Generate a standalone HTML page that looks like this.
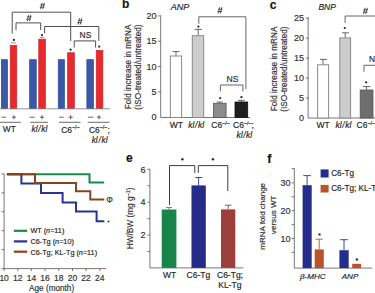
<!DOCTYPE html>
<html><head><meta charset="utf-8">
<style>
html,body{margin:0;padding:0;background:#fff;width:375px;height:293px;overflow:hidden}
svg{display:block;font-family:"Liberation Sans",sans-serif}
text{stroke:#333;stroke-width:0.18px}
</style></head><body>
<svg width="375" height="293" viewBox="0 0 375 293">
<rect width="375" height="293" fill="#fff"/>

<!-- ===== Panel a ===== -->
<g id="a">
  <g fill="#3a58a6" stroke="#2e4a94" stroke-width="0.7">
    <rect x="1.35" y="59.65" width="6.2" height="48.9"/>
    <rect x="29.65" y="59.65" width="6.6" height="48.9"/>
    <rect x="58.25" y="59.65" width="6.2" height="48.9"/>
    <rect x="86.85" y="59.65" width="6.6" height="48.9"/>
  </g>
  <g fill="#e8292e" stroke="#cf2328" stroke-width="0.7">
    <rect x="10.25" y="45.35" width="6.5" height="63.2"/>
    <rect x="38.75" y="39.15" width="6.6" height="69.4"/>
    <rect x="67.65" y="52.75" width="6.7" height="55.8"/>
    <rect x="96.25" y="50.35" width="6.6" height="58.2"/>
  </g>
  <g stroke="#d85055" stroke-width="0.8">
    <line x1="11" y1="42.9" x2="16" y2="42.9"/>
    <line x1="39.8" y1="37.4" x2="44.4" y2="37.4"/>
  </g>
  <g fill="#2a2a2a">
    <circle cx="13.9" cy="39.9" r="1.15"/>
    <circle cx="42" cy="35.1" r="1.15"/>
    <circle cx="70.6" cy="49.7" r="1.15"/>
    <circle cx="99.2" cy="46.6" r="1.15"/>
  </g>
  <g stroke="#505050" stroke-width="1" fill="none">
    <polyline points="12.2,33.7 12.2,12.2 70.7,12.2 70.7,41"/>
    <polyline points="16,30.3 16,22.9 40.7,22.9 40.7,30"/>
    <polyline points="44.6,33.3 44.6,26.5 98.8,26.5 98.8,40.8"/>
    <polyline points="74.2,47.6 74.2,40.9 95.6,40.9 95.6,47.6"/>
  </g>
  <path d="M40.50,9.20L42.10,2.90M42.70,9.20L44.30,2.90M39.80,7.20H44.40M40.40,4.90H45.00M27.10,21.20L28.70,14.90M29.30,21.20L30.90,14.90M26.40,19.20H31.00M27.00,16.90H31.60M78.00,24.60L79.60,18.30M80.20,24.60L81.80,18.30M77.30,22.60H81.90M77.90,20.30H82.50" stroke="#3a3a3a" stroke-width="0.85" fill="none"/>
  <text x="85.4" y="38.3" font-size="8.4" fill="#2a2a2a" text-anchor="middle">NS</text>
  <line x1="0" y1="108.8" x2="110" y2="108.8" stroke="#777" stroke-width="0.8"/>
  <g stroke="#3a3a3a" stroke-width="0.75">
    <line x1="1.4" y1="117.2" x2="6.2" y2="117.2"/>
    <line x1="29.6" y1="117.2" x2="34.9" y2="117.2"/>
    <line x1="59.1" y1="117.2" x2="63.8" y2="117.2"/>
    <line x1="87.9" y1="117.2" x2="93.3" y2="117.2"/>
    <path d="M11.8,117.2h4.2M13.9,115.1v4.2"/>
    <path d="M39.9,117.2h4.2M42.0,115.1v4.2"/>
    <path d="M68.6,117.2h4.2M70.7,115.1v4.2"/>
    <path d="M96.9,117.2h4.2M99.0,115.1v4.2"/>
  </g>
  <g stroke="#444" stroke-width="0.8">
    <line x1="0" y1="122.3" x2="20.8" y2="122.3"/>
    <line x1="30.3" y1="122.3" x2="48" y2="122.3"/>
    <line x1="59" y1="122.3" x2="80.6" y2="122.3"/>
    <line x1="87.8" y1="122.3" x2="109.4" y2="122.3"/>
  </g>
  <g font-size="8.4" fill="#222">
    <text x="9.3" y="132.4" text-anchor="middle">WT</text>
    <text x="39.5" y="132.4" text-anchor="middle" font-style="italic">kl<tspan dx="0.7">/</tspan><tspan dx="0.7">kl</tspan></text>
    <text x="61.2" y="132.6">C6<tspan font-size="5.5" dy="-3.5">–/–</tspan></text>
    <text x="89" y="132.6">C6<tspan font-size="5.5" dy="-3.5">–/–</tspan><tspan dy="3.5">;</tspan></text>
    <text x="99.6" y="142.5" text-anchor="middle" font-style="italic">kl<tspan dx="0.7">/</tspan><tspan dx="0.7">kl</tspan></text>
  </g>
</g>

<!-- ===== Panel b ===== -->
<g id="b">
  <text x="122.1" y="8.4" font-size="12" font-weight="bold" fill="#111">b</text>
  <text x="180" y="10.2" font-size="9" font-style="italic" fill="#222" text-anchor="middle">ANP</text>
  <g stroke="#555" stroke-width="0.8">
    <line x1="160.7" y1="15.4" x2="160.7" y2="117.5"/>
    <line x1="160.7" y1="117.5" x2="250" y2="117.5"/>
    <line x1="158" y1="15.9" x2="160.7" y2="15.9"/>
    <line x1="158" y1="41.2" x2="160.7" y2="41.2"/>
    <line x1="158" y1="66.6" x2="160.7" y2="66.6"/>
    <line x1="158" y1="91.9" x2="160.7" y2="91.9"/>
    
  </g>
  <g font-size="9" fill="#333" text-anchor="end">
    <text x="156.5" y="19.1">20</text>
    <text x="156.5" y="44.4">15</text>
    <text x="156.5" y="69.8">10</text>
    <text x="156.5" y="95.1">5</text>
    <text x="156.5" y="120.4">0</text>
  </g>
  <g font-size="8.25" fill="#333" text-anchor="middle" transform="rotate(-90)">
    <text x="-66.9" y="130.6">Fold increase in mRNA</text>
    <text x="-67.1" y="140.6">(ISO-treated/untreated)</text>
  </g>
  <g stroke="#444" stroke-width="0.8">
    <line x1="176" y1="51.6" x2="176" y2="55.8"/><line x1="172.5" y1="51.6" x2="179.5" y2="51.6"/>
    <line x1="198.2" y1="29.4" x2="198.2" y2="35.7"/><line x1="194.5" y1="29.4" x2="201.9" y2="29.4"/>
    <line x1="219.7" y1="102" x2="219.7" y2="103.3"/><line x1="216.6" y1="102" x2="222.9" y2="102"/>
    <line x1="241.3" y1="100.4" x2="241.3" y2="102"/><line x1="238" y1="100.4" x2="244.6" y2="100.4"/>
  </g>
  <rect x="170.4" y="56" width="11.2" height="61.5" fill="#fff" stroke="#8a8a8a" stroke-width="1"/>
  <rect x="192.3" y="35.7" width="11.4" height="81.8" fill="#cdcdcd" stroke="#8a8a8a" stroke-width="1"/>
  <rect x="213.4" y="103.3" width="12.7" height="14.2" fill="#8c8c8c" stroke="#555" stroke-width="0.8"/>
  <rect x="235" y="102" width="12.7" height="15.5" fill="#1e1e1e" stroke="#111" stroke-width="0.8"/>
  <g fill="#222">
    <circle cx="198.4" cy="26.6" r="1.1"/>
    <circle cx="220.2" cy="98" r="1.1"/>
    <circle cx="241.4" cy="97.2" r="1.1"/>
  </g>
  <g stroke="#555" stroke-width="0.9" fill="none">
    <polyline points="198.8,23.8 198.8,16.8 245.9,16.8 245.9,89"/>
    <polyline points="220.4,91.3 220.4,85 242.9,85 242.9,91.3"/>
  </g>
  <path d="M218.10,13.50L219.70,7.20M220.30,13.50L221.90,7.20M217.40,11.50H222.00M218.00,9.20H222.60" stroke="#3a3a3a" stroke-width="0.85" fill="none"/>
  <text x="232.5" y="82" font-size="8.6" fill="#333" text-anchor="middle">NS</text>
  <g font-size="8.5" fill="#222">
    <text x="176.3" y="128" text-anchor="middle">WT</text>
    <text x="196.1" y="128" text-anchor="middle" font-style="italic">kl<tspan dx="0.6">/</tspan><tspan dx="0.6">kl</tspan></text>
    <text x="211.3" y="128">C6<tspan font-size="5.5" dy="-3.5">–/–</tspan></text>
    <text x="233" y="128">C6<tspan font-size="5.5" dy="-3.5">–/–</tspan><tspan dy="3.5">;</tspan></text>
    <text x="236.4" y="137.5" font-style="italic">kl<tspan dx="0.6">/</tspan><tspan dx="0.6">kl</tspan></text>
  </g>
</g>

<!-- ===== Panel c ===== -->
<g id="c">
  <text x="269.8" y="9" font-size="12" font-weight="bold" fill="#111">c</text>
  <text x="318.4" y="10.3" font-size="8.5" font-style="italic" fill="#222">BNP</text>
  <g stroke="#555" stroke-width="0.8">
    <line x1="308.1" y1="17.4" x2="308.1" y2="118"/>
    <line x1="308.1" y1="118" x2="375" y2="118"/>
    <line x1="306" y1="18.2" x2="308.8" y2="18.2"/>
    <line x1="306" y1="38.2" x2="308.8" y2="38.2"/>
    <line x1="306" y1="58.1" x2="308.8" y2="58.1"/>
    <line x1="306" y1="78.1" x2="308.8" y2="78.1"/>
    <line x1="306" y1="98" x2="308.8" y2="98"/>
    
  </g>
  <g font-size="9" fill="#333" text-anchor="end">
    <text x="304" y="21.4">25</text>
    <text x="304" y="41.4">20</text>
    <text x="304" y="61.3">15</text>
    <text x="304" y="81.3">10</text>
    <text x="304" y="101.2">5</text>
    <text x="304" y="121.2">0</text>
  </g>
  <g font-size="8.25" fill="#333" text-anchor="middle" transform="rotate(-90)">
    <text x="-68.9" y="276.9">Fold increase in mRNA</text>
    <text x="-69.1" y="286.8">(ISO-treated/untreated)</text>
  </g>
  <g stroke="#444" stroke-width="0.8">
    <line x1="323" y1="59.4" x2="323" y2="65.3"/><line x1="320" y1="59.4" x2="327" y2="59.4"/>
    <line x1="345.2" y1="32.8" x2="345.2" y2="38.4"/><line x1="342" y1="32.8" x2="349" y2="32.8"/>
    <line x1="366.5" y1="86.6" x2="366.5" y2="90"/><line x1="362.7" y1="86.6" x2="370.4" y2="86.6"/>
  </g>
  <rect x="317.6" y="64.8" width="11" height="53.2" fill="#fff" stroke="#8a8a8a" stroke-width="1"/>
  <rect x="339.8" y="37.9" width="10.8" height="80.1" fill="#cdcdcd" stroke="#8a8a8a" stroke-width="1"/>
  <rect x="360.2" y="90" width="12.8" height="28" fill="#6e6e6e" stroke="#555" stroke-width="0.8"/>
  <g fill="#222">
    <circle cx="344.8" cy="28" r="1.1"/>
    <circle cx="366.1" cy="82.3" r="1.15"/>
  </g>
  <g stroke="#555" stroke-width="0.9" fill="none">
    <polyline points="345.1,22.9 345.1,16 376,16"/>
    <polyline points="364,71.7 364,65.3 376,65.3"/>
  </g>
  <path d="M363.50,14.10L365.10,7.80M365.70,14.10L367.30,7.80M362.80,12.10H367.40M363.40,9.80H368.00" stroke="#3a3a3a" stroke-width="0.85" fill="none"/>
  <text x="369" y="62.2" font-size="8.4" fill="#2a2a2a">NS</text>
  <g font-size="8.5" fill="#222">
    <text x="323" y="128.4" text-anchor="middle">WT</text>
    <text x="343.4" y="128.4" text-anchor="middle" font-style="italic">kl<tspan dx="0.6">/</tspan><tspan dx="0.6">kl</tspan></text>
    <text x="356.5" y="128.4">C6<tspan font-size="5.5" dy="-3.5">–/–</tspan></text>
  </g>
</g>

<!-- ===== Panel d ===== -->
<g id="d">
  <g stroke="#555" stroke-width="0.8">
    <line x1="4.1" y1="173.7" x2="4.1" y2="268.6"/>
    <line x1="4.1" y1="268.6" x2="106.4" y2="268.6"/>
    <line x1="1.5" y1="174" x2="4.1" y2="174"/>
    <line x1="1.5" y1="192.9" x2="4.1" y2="192.9"/>
    <line x1="1.5" y1="211.8" x2="4.1" y2="211.8"/>
    <line x1="1.5" y1="230.7" x2="4.1" y2="230.7"/>
    <line x1="1.5" y1="249.6" x2="4.1" y2="249.6"/>
    <line x1="1.5" y1="268.6" x2="4.1" y2="268.6"/>
    <line x1="4.1" y1="268.6" x2="4.1" y2="271"/>
    <line x1="17.8" y1="268.6" x2="17.8" y2="271"/>
    <line x1="31.4" y1="268.6" x2="31.4" y2="271"/>
    <line x1="45.1" y1="268.6" x2="45.1" y2="271"/>
    <line x1="58.8" y1="268.6" x2="58.8" y2="271"/>
    <line x1="72.5" y1="268.6" x2="72.5" y2="271"/>
    <line x1="86.1" y1="268.6" x2="86.1" y2="271"/>
    <line x1="99.8" y1="268.6" x2="99.8" y2="271"/>
  </g>
  <g font-size="8.5" fill="#333" text-anchor="middle">
    <text x="4.1" y="280.9">10</text>
    <text x="17.8" y="280.9">12</text>
    <text x="31.4" y="280.9">14</text>
    <text x="45.1" y="280.9">16</text>
    <text x="58.8" y="280.9">18</text>
    <text x="72.5" y="280.9">20</text>
    <text x="86.1" y="280.9">22</text>
    <text x="99.8" y="280.9">24</text>
    <text x="51.6" y="291.4" font-size="8.2">Age (month)</text>
  </g>
  <g fill="none" stroke-width="2" stroke-linejoin="miter" stroke-linecap="butt">
    <polyline stroke="#1a8a4c" points="6.9,174.3 89.5,174.3 89.5,182.5 104.2,182.5"/>
    <polyline stroke="#283393" points="6.9,174.3 21.4,174.3 21.4,183.6 41,183.6 41,193 62.6,193 62.6,202.4 76,202.4 76,211.6 96.6,211.6 96.6,221.2 104.3,221.2"/>
    <polyline stroke="#8a4320" points="6.9,174.3 35,174.3 35,183 76,183 76,191.3 90.3,191.3 90.3,199.4 104.3,199.4"/>
  </g>
  <text x="109.5" y="203.3" font-size="8.3" fill="#333" text-anchor="middle">Φ</text>
  <circle cx="108.5" cy="221.5" r="1" fill="#333"/>
  <g stroke-width="2.2">
    <line x1="13.8" y1="230.8" x2="27.2" y2="230.8" stroke="#1a8a4c"/>
    <line x1="13.8" y1="241.4" x2="27.2" y2="241.4" stroke="#283393"/>
    <line x1="13.8" y1="251.7" x2="27.2" y2="251.7" stroke="#8a4320"/>
  </g>
  <g font-size="7.25" fill="#222">
    <text x="30.5" y="233.3">WT (<tspan font-style="italic">n</tspan>=11)</text>
    <text x="30.5" y="244">C6-Tg (<tspan font-style="italic">n</tspan>=10)</text>
    <text x="30.5" y="254.6">C6-Tg; KL-Tg (<tspan font-style="italic">n</tspan>=11)</text>
  </g>
</g>

<!-- ===== Panel e ===== -->
<g id="e">
  <text x="125.9" y="161.6" font-size="12" font-weight="bold" fill="#111">e</text>
  <g stroke="#555" stroke-width="0.8">
    <line x1="149.9" y1="168.8" x2="149.9" y2="267.9"/>
    <line x1="149.9" y1="267.9" x2="243.3" y2="267.9"/>
    <line x1="147.4" y1="169.3" x2="149.9" y2="169.3"/>
    <line x1="147.4" y1="185.75" x2="149.9" y2="185.75"/>
    <line x1="147.4" y1="202.2" x2="149.9" y2="202.2"/>
    <line x1="147.4" y1="218.65" x2="149.9" y2="218.65"/>
    <line x1="147.4" y1="235.1" x2="149.9" y2="235.1"/>
    <line x1="147.4" y1="251.55" x2="149.9" y2="251.55"/>
  </g>
  <g font-size="9" fill="#333" text-anchor="end">
    <text x="145.6" y="172.6">6</text>
    <text x="145.6" y="205">4</text>
    <text x="145.6" y="237.6">2</text>
  </g>
  <text transform="translate(133.4,218.4) rotate(-90)" font-size="8.3" fill="#333" text-anchor="middle">HW/BW (mg g<tspan font-size="5.5" dy="-3">–1</tspan><tspan dy="3">)</tspan></text>
  <g stroke-width="0.9">
    <line x1="169" y1="207.5" x2="169" y2="209.5" stroke="#1a8a4c"/><line x1="166" y1="207.5" x2="172" y2="207.5" stroke="#3a9a60"/>
    <line x1="198.6" y1="177.5" x2="198.6" y2="185.4" stroke="#283393"/><line x1="195.3" y1="177.5" x2="202.3" y2="177.5" stroke="#283393"/>
    <line x1="228.2" y1="205.2" x2="228.2" y2="209" stroke="#9b3f3a"/><line x1="225" y1="205.2" x2="231.6" y2="205.2" stroke="#9b3f3a"/>
  </g>
  <rect x="161.7" y="209.5" width="14.7" height="58.4" fill="#198449"/>
  <rect x="191.5" y="185.4" width="14.3" height="82.5" fill="#252b86"/>
  <rect x="221" y="209.4" width="14.3" height="58.5" fill="#9c3f3b"/>
  <g stroke="#3c3c3c" stroke-width="1" fill="none">
    <polyline points="169.5,205 169.5,165.6 194.8,165.6 194.8,173"/>
    <polyline points="198.3,173 198.3,165.6 227.8,165.6 227.8,191"/>
  </g>
  <circle cx="182.4" cy="159.3" r="1.25" fill="#333"/>
  <circle cx="212.9" cy="159.3" r="1.25" fill="#333"/>
  <g font-size="8.5" fill="#222" text-anchor="middle">
    <text x="169.7" y="277.8">WT</text>
    <text x="198.4" y="277.8">C6-Tg</text>
    <text x="230" y="277.8">C6-Tg;</text>
    <text x="229.8" y="288.3">KL-Tg</text>
  </g>
</g>

<!-- ===== Panel f ===== -->
<g id="f">
  <text x="267.2" y="162.5" font-size="12.6" font-weight="bold" fill="#111">f</text>
  <g stroke="#555" stroke-width="0.8">
    <line x1="294.3" y1="168" x2="294.3" y2="268.1"/>
    <line x1="294.3" y1="268.1" x2="372" y2="268.1"/>
    <line x1="291.6" y1="168.7" x2="294.1" y2="168.7"/>
    <line x1="291.6" y1="182.9" x2="294.1" y2="182.9"/>
    <line x1="291.6" y1="196.8" x2="294.1" y2="196.8"/>
    <line x1="291.6" y1="210.7" x2="294.1" y2="210.7"/>
    <line x1="291.6" y1="224.6" x2="294.1" y2="224.6"/>
    <line x1="291.6" y1="238.5" x2="294.1" y2="238.5"/>
    <line x1="291.6" y1="252.4" x2="294.1" y2="252.4"/>
  </g>
  <g font-size="9" fill="#333" text-anchor="end">
    <text x="290.4" y="186.1">30</text>
    <text x="290.4" y="213.9">20</text>
    <text x="290.4" y="241.7">10</text>
  </g>
  <g font-size="8" fill="#333" text-anchor="middle" transform="rotate(-90)">
    <text x="-216.3" y="264.8">mRNA fold change</text>
    <text x="-214.8" y="275.9" font-size="8.1">versus WT</text>
  </g>
  <g stroke-width="0.9">
    <line x1="307.1" y1="175.6" x2="307.1" y2="185" stroke="#283393"/><line x1="303.3" y1="175.6" x2="310.9" y2="175.6" stroke="#283393"/>
    <line x1="319.2" y1="239.2" x2="319.2" y2="249" stroke="#b8552a"/><line x1="315.5" y1="239.2" x2="323" y2="239.2" stroke="#b8552a"/>
    <line x1="344" y1="239.7" x2="344" y2="250.2" stroke="#283393"/><line x1="340.2" y1="239.7" x2="347.8" y2="239.7" stroke="#283393"/>
  </g>
  <rect x="302.6" y="185.2" width="9.1" height="82.9" fill="#252d8c"/>
  <rect x="314.7" y="249.4" width="9.1" height="18.7" fill="#b8532a"/>
  <rect x="339.4" y="250.2" width="9.3" height="17.9" fill="#252d8c"/>
  <rect x="352.2" y="263.8" width="8.9" height="4.3" fill="#b8532a"/>
  <circle cx="319.5" cy="234.4" r="1.2" fill="#333"/>
  <circle cx="356.9" cy="259.5" r="1.2" fill="#333"/>
  <rect x="320.6" y="169.4" width="8" height="8.1" fill="#252d8c"/>
  <rect x="320.6" y="184.9" width="8" height="7.6" fill="#b8532a"/>
  <g font-size="8.2" fill="#222">
    <text x="331.2" y="176.3">C6-Tg</text>
    <text x="331.2" y="190.8">C6-Tg; KL-Tg</text>
  </g>
  <g font-size="8.1" fill="#222" font-style="italic" text-anchor="middle">
    <text x="312.8" y="279">β-MHC</text>
    <text x="350" y="279">ANP</text>
  </g>
</g>
</svg>
</body></html>
